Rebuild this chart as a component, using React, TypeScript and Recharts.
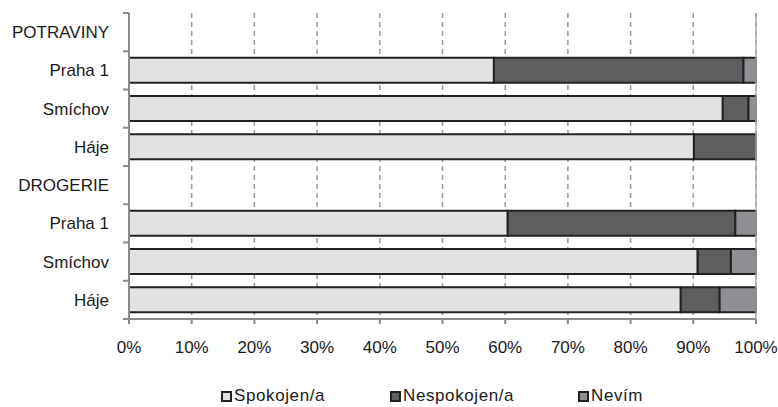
import { BarChart, Bar, XAxis, YAxis, CartesianGrid, ReferenceLine, Legend } from "recharts";

const categories = ["POTRAVINY", "Praha 1", "Smíchov", "Háje", "DROGERIE", "Praha 1", "Smíchov", "Háje"];
const spokojen = [null, 58.2, 94.7, 90.1, null, 60.4, 90.7, 88.0];
const nespokojen = [null, 39.8, 4.1, 9.9, null, 36.3, 5.3, 6.2];
const nevim = [null, 2.0, 1.2, 0, null, 3.3, 4.0, 5.8];
const xTicks = [0, 10, 20, 30, 40, 50, 60, 70, 80, 90, 100];

const data = categories.map((name, i) => ({
  id: `c${i}`,
  name,
  spokojen: spokojen[i],
  nespokojen: nespokojen[i],
  nevim: nevim[i],
}));

const SERIES = [
  { key: "spokojen", label: "Spokojen/a", fill: "#e1e2e4" },
  { key: "nespokojen", label: "Nespokojen/a", fill: "#5e5e60" },
  { key: "nevim", label: "Nevím", fill: "#8e8f92" },
];

const W = 778;
const H = 407;
const TOP = 13;
const BOTTOM_PLOT = 319;
const BAND = (BOTTOM_PLOT - TOP) / categories.length;
const FONT = "'Liberation Sans', Arial, sans-serif";

function CategoryTick(props: any) {
  const { x, y, payload, index } = props;
  const label = categories[index] ?? payload.value;
  const axisX = x + 8;
  return (
    <g>
      <line x1={axisX - 6} x2={axisX} y1={y - BAND / 2} y2={y - BAND / 2} stroke="#8a8a8a" strokeWidth={2} />
      {index === categories.length - 1 && (
        <line x1={axisX - 6} x2={axisX} y1={y + BAND / 2} y2={y + BAND / 2} stroke="#8a8a8a" strokeWidth={2} />
      )}
      <text x={x - 12} y={y} dy="0.35em" textAnchor="end" fontSize={17} fill="#1a1a1a" fontFamily={FONT}>
        {label}
      </text>
    </g>
  );
}

function LegendBox() {
  const lefts = [221, 390, 578];
  return (
    <div
      style={{
        position: "relative",
        height: 20,
        fontFamily: FONT,
        fontSize: 17,
        lineHeight: "20px",
        letterSpacing: 0.6,
        color: "#1a1a1a",
      }}
    >
      {SERIES.map((s, i) => (
        <div
          key={s.key}
          style={{ position: "absolute", left: lefts[i], top: 0, height: 20, display: "flex", alignItems: "center" }}
        >
          <span
            style={{
              display: "inline-block",
              width: 7,
              height: 7,
              background: s.fill,
              border: "2px solid #222",
              marginRight: 2,
              marginTop: 1,
            }}
          />
          <span>{s.label}</span>
        </div>
      ))}
    </div>
  );
}

export default function App() {
  return (
    <div style={{ position: "absolute", left: 0, top: 0, width: W, height: H, background: "#fff" }}>
      <BarChart
        width={W}
        height={H}
        data={data}
        layout="vertical"
        margin={{ top: TOP, right: 22, bottom: 0, left: 0 }}
        barCategoryGap="17%"
      >
        <CartesianGrid horizontal={false} stroke="#9a9a9a" strokeWidth={1.5} strokeDasharray="5 4" />
        <XAxis
          type="number"
          domain={[0, 100]}
          ticks={xTicks}
          tickFormatter={(v) => `${v}%`}
          axisLine={{ stroke: "#8a8a8a", strokeWidth: 2 }}
          tickLine={{ stroke: "#8a8a8a", strokeWidth: 2 }}
          tickSize={5}
          tickMargin={17}
          tick={{ fontSize: 17, fill: "#1a1a1a", fontFamily: FONT }}
          height={68}
          interval={0}
        />
        <YAxis
          type="category"
          dataKey="id"
          width={129}
          axisLine={{ stroke: "#8a8a8a", strokeWidth: 2 }}
          tickLine={false}
          tick={<CategoryTick />}
          interval={0}
        />
        <ReferenceLine x={100} stroke="#b0b0b0" strokeWidth={1.5} />
        {SERIES.map((s) => (
          <Bar
            key={s.key}
            dataKey={s.key}
            name={s.label}
            stackId="a"
            fill={s.fill}
            stroke="#222"
            strokeWidth={2}
            isAnimationActive={false}
          />
        ))}
        <Legend
          verticalAlign="bottom"
          content={() => <LegendBox />}
          wrapperStyle={{ left: 0, top: 386, width: W, height: 20 }}
        />
      </BarChart>
    </div>
  );
}
